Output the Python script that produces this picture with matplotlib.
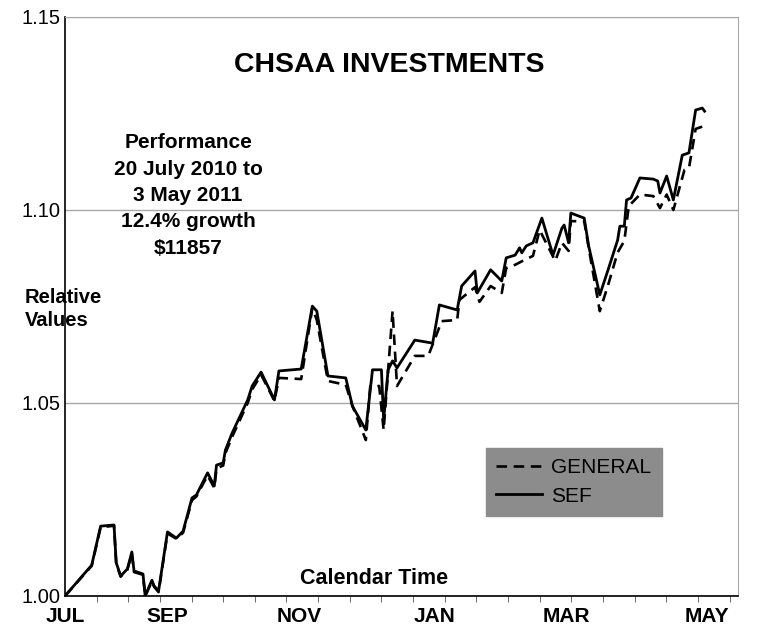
import matplotlib
matplotlib.use('Agg')
import matplotlib.pyplot as plt
from matplotlib.ticker import MultipleLocator, FixedLocator

plt.rcParams['font.family'] = ['Liberation Sans', 'DejaVu Sans']

# dias desde 20 julio 2010
dias_sef = [0, 12, 16, 22, 23, 25, 28, 30, 31, 35, 36, 39, 40, 42, 46, 50, 53, 57, 59, 61,
            64, 67, 68, 71, 72, 75, 82, 84, 88, 91, 94, 96, 106, 111, 113, 118, 126, 129,
            135, 138, 142, 143, 145, 147, 149, 157, 165, 168, 176, 178, 184, 185, 191, 196,
            198, 202, 204, 205, 207, 210, 214, 219, 223, 224, 226, 227, 233, 235, 240, 244,
            248, 249, 251, 252, 254, 258, 264, 266, 267, 270, 273, 277, 280, 283, 286, 287]
sef = [1.0000, 1.0080, 1.0181, 1.0184, 1.0086, 1.0052, 1.0070, 1.0114, 1.0065, 1.0057,
       1.0000, 1.0041, 1.0026, 1.0013, 1.0166, 1.0150, 1.0168, 1.0254, 1.0262, 1.0285,
       1.0319, 1.0285, 1.0339, 1.0345, 1.0378, 1.0422, 1.0508, 1.0544, 1.0580, 1.0544,
       1.0508, 1.0583, 1.0588, 1.0751, 1.0738, 1.0570, 1.0565, 1.0492, 1.0430, 1.0586,
       1.0586, 1.0456, 1.0586, 1.0609, 1.0591, 1.0663, 1.0655, 1.0754, 1.0741, 1.0803,
       1.0842, 1.0785, 1.0845, 1.0816, 1.0876, 1.0883, 1.0902, 1.0889, 1.0907, 1.0915,
       1.0979, 1.0883, 1.0953, 1.0961, 1.0915, 1.0992, 1.0979, 1.0907, 1.0780, 1.0850,
       1.0922, 1.0958, 1.0958, 1.1026, 1.1031, 1.1083, 1.1080, 1.1075, 1.1044, 1.1088,
       1.1026, 1.1142, 1.1148, 1.1259, 1.1264, 1.1256]

dias_gen = [0, 12, 16, 22, 23, 25, 28, 30, 31, 35, 36, 39, 40, 42, 46, 50, 53, 57, 59, 61,
            64, 67, 68, 71, 72, 75, 82, 84, 88, 91, 94, 96, 106, 111, 113, 118, 126, 129,
            135, 137, 141, 143, 147, 149, 157, 163, 167, 169, 176, 177, 184, 186, 191, 196,
            198, 202, 206, 210, 213, 220, 223, 226, 227, 233, 235, 240, 244, 248, 251, 253,
            258, 264, 267, 270, 273, 278, 280, 283, 287]
general = [1.0000, 1.0078, 1.0178, 1.0182, 1.0083, 1.0050, 1.0068, 1.0110, 1.0062, 1.0055,
           1.0000, 1.0038, 1.0024, 1.0010, 1.0162, 1.0148, 1.0164, 1.0248, 1.0258, 1.0280,
           1.0312, 1.0280, 1.0330, 1.0338, 1.0370, 1.0412, 1.0500, 1.0535, 1.0573, 1.0540,
           1.0505, 1.0565, 1.0562, 1.0746, 1.0715, 1.0557, 1.0547, 1.0492, 1.0404, 1.0544,
           1.0544, 1.0430, 1.0738, 1.0544, 1.0622, 1.0622, 1.0681, 1.0712, 1.0715, 1.0767,
           1.0800, 1.0762, 1.0803, 1.0785, 1.0850, 1.0858, 1.0870, 1.0881, 1.0948, 1.0868,
           1.0915, 1.0894, 1.0971, 1.0971, 1.0902, 1.0738, 1.0811, 1.0890, 1.0920, 1.1010,
           1.1040, 1.1036, 1.1005, 1.1040, 1.1000, 1.1104, 1.1108, 1.1210, 1.1218]

meses = ['JUL', 'SEP', 'NOV', 'JAN', 'MAR', 'MAY']
dias_meses = [0, 46, 105, 166, 225, 288]
valores_y = [1.00, 1.05, 1.10, 1.15]
texto_perf = ['Performance', '20 July 2010 to', '3 May 2011', '12.4% growth', '$11857']

fig = plt.figure(figsize=(7.68, 6.36), dpi=100)
ax = fig.add_axes([0.0846, 0.0629, 0.8763, 0.9104])

ax.plot(dias_gen, general, color='black', lw=1.9, linestyle=(0, (4, 2.5)), label='GENERAL')
ax.plot(dias_sef, sef, color='black', lw=2.0, label='SEF')

ax.set_xlim(0, 302)
ax.set_ylim(1.0, 1.15)
ax.yaxis.set_major_locator(FixedLocator(valores_y))
ax.set_yticklabels(['%.2f' % v for v in valores_y], fontsize=14.5)
ax.tick_params(axis='y', length=0, pad=3)
ax.grid(True, axis='y', color='#a8a8a8', lw=1)

ax.xaxis.set_major_locator(FixedLocator(dias_meses))
ax.set_xticklabels(meses, fontsize=15, fontweight='bold')
ax.xaxis.set_minor_locator(MultipleLocator(14.2))
ax.tick_params(axis='x', which='major', length=0, pad=8)
ax.tick_params(axis='x', which='minor', length=4, color='#555555')

ax.spines['left'].set_linewidth(1.2)
ax.spines['bottom'].set_linewidth(1.2)
ax.spines['top'].set_color('#a8a8a8')
ax.spines['right'].set_color('#a8a8a8')

leg = ax.legend(loc='upper left', bbox_to_anchor=(0.61, 0.274), fontsize=15,
                facecolor='#8c8c8c', edgecolor='#8c8c8c', framealpha=1, fancybox=False,
                handlelength=2.2, handletextpad=0.43, borderpad=0.5, labelspacing=0.45)

fig.text(0.507, 0.898, 'CHSAA INVESTMENTS', fontsize=20.5, fontweight='bold', ha='center', va='center')
for i, linea in enumerate(texto_perf):
    fig.text(0.245, 1 - (143 + 26.3 * i) / 636, linea, fontsize=15, fontweight='bold',
             ha='center', va='center')
fig.text(0.032, 1 - 297 / 636, 'Relative', fontsize=14.5, fontweight='bold', va='center')
fig.text(0.032, 1 - 320 / 636, 'Values', fontsize=14.5, fontweight='bold', va='center')
fig.text(0.487, 1 - 578 / 636, 'Calendar Time', fontsize=15.5, fontweight='bold',
         ha='center', va='center')

fig.savefig('out.png', dpi=100)
